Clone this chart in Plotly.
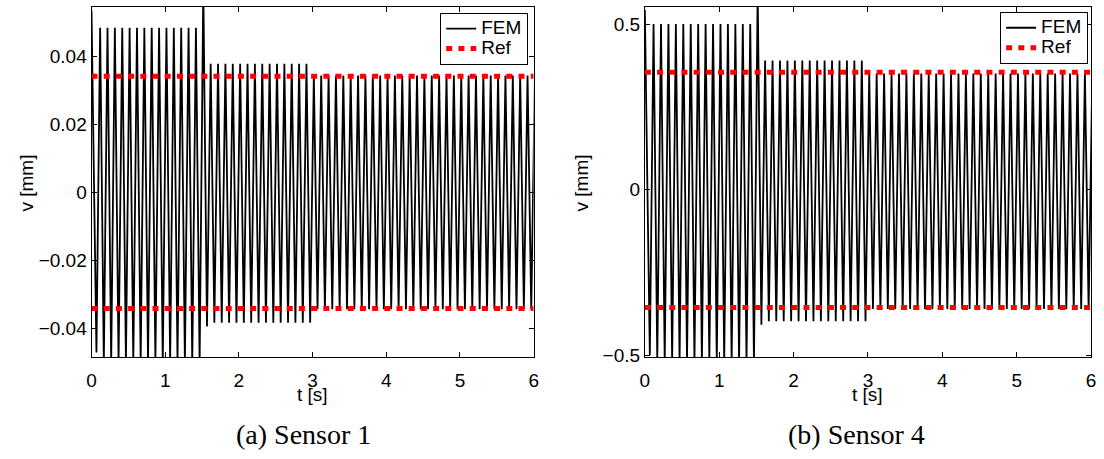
import plotly.graph_objects as go

# ---- data ----
# oscillation cycles (10 Hz); trough / peak times of cycle k
period = 0.1
trough_t0 = 0.067
peak_t0 = 0.117
n_cycles = 60

# Sensor 1 (left)
start_s1 = 0.0534
troughs_s1 = [-0.047] + [-0.050] * 14 + [-0.0394] + [-0.0383] * 14 + [-0.0343] * 30
peaks_s1 = [0.0484] * 14 + [0.060] + [0.0378] * 14 + [0.0343] * 31
ref_s1 = 0.0341

# Sensor 4 (right)
start_s4 = 0.544
troughs_s4 = [-0.50] + [-0.52] * 14 + [-0.408] + [-0.398] * 14 + [-0.361] * 30
peaks_s4 = [0.502] * 14 + [0.60] + [0.391] * 14 + [0.352] * 31
ref_s4 = 0.356

t_range = [0, 6]
x_ticks = [0, 1, 2, 3, 4, 5, 6]
y_ticks_s1 = [-0.04, -0.02, 0, 0.02, 0.04]
y_ticks_s4 = [-0.5, 0, 0.5]
captions = ["(a) Sensor 1", "(b) Sensor 4"]


def build(start, troughs, peaks):
    t = [0.0]
    v = [start]
    for k in range(n_cycles):
        t.append(trough_t0 + period * k)
        v.append(troughs[k])
        t.append(peak_t0 + period * k)
        v.append(peaks[k])
    return t, v


SANS = "Liberation Sans"
SERIF = "Liberation Serif"
FS = 19


def lg(name):
    return "<span style='font-size:19px'>%s</span>" % name


fig = go.Figure()

for i, (start, tr, pk, ref, leg) in enumerate([
        (start_s1, troughs_s1, peaks_s1, ref_s1, "legend"),
        (start_s4, troughs_s4, peaks_s4, ref_s4, "legend2")]):
    xa = "x" if i == 0 else "x2"
    ya = "y" if i == 0 else "y2"
    t, v = build(start, tr, pk)
    fig.add_trace(go.Scatter(x=t, y=v, mode="lines", name=lg("FEM"),
                             line=dict(color="black", width=1.8),
                             xaxis=xa, yaxis=ya, legend=leg))
    fig.add_trace(go.Scatter(x=[t_range[0], t_range[1], None, t_range[0], t_range[1]],
                             y=[ref, ref, None, -ref, -ref], mode="lines", name=lg("Ref"),
                             line=dict(color="#ff0000", width=5, dash="6px,6.2px"),
                             xaxis=xa, yaxis=ya, legend=leg))

W, H = 1104, 459
ytop = 1 - 7 / H
ybot = 1 - 363.5 / H

axis_common = dict(showgrid=False, zeroline=False, showline=True, linecolor="black",
                   linewidth=1, mirror="ticks", ticks="inside", ticklen=5,
                   tickcolor="black", tickwidth=1,
                   tickfont=dict(family=SANS, size=FS, color="black"))

legend_common = dict(xanchor="right", yanchor="top",
                     bgcolor="white", bordercolor="black", borderwidth=1,
                     font=dict(family=SANS, size=13, color="black"),
                     tracegroupgap=0, itemwidth=30)

fig.update_layout(
    width=W, height=H, autosize=False,
    margin=dict(l=0, r=0, t=0, b=0),
    paper_bgcolor="white", plot_bgcolor="white",
    xaxis=dict(domain=[87.3 / W, 533.5 / W], range=t_range, tickvals=x_ticks,
               anchor="y", ticklabelstandoff=6, **axis_common),
    yaxis=dict(domain=[ybot, ytop], range=[-0.0484, 0.0545], tickvals=y_ticks_s1,
               anchor="x", ticklabelstandoff=0, **axis_common),
    xaxis2=dict(domain=[645.7 / W, 1096 / W], range=t_range, tickvals=x_ticks,
                anchor="y2", ticklabelstandoff=6, **axis_common),
    yaxis2=dict(domain=[ybot, ytop], range=[-0.5065, 0.5535], tickvals=y_ticks_s4,
                anchor="x2", ticklabelstandoff=0, **axis_common),
    legend=dict(x=528 / W, y=1 - 13 / H, **legend_common),
    legend2=dict(x=1093 / W, y=1 - 12 / H, **legend_common),
    showlegend=True,
)

ann = []
for xc in [(87.3 + 533.5) / 2, (645.7 + 1096) / 2]:
    ann.append(dict(text="t [s]", x=xc / W, y=1 - 402 / H, xref="paper", yref="paper",
                    showarrow=False, xanchor="center", yanchor="middle",
                    font=dict(family=SANS, size=FS, color="black")))
for xc in [22, 582]:
    ann.append(dict(text="v [mm]", x=xc / W, y=1 - 186 / H, xref="paper", yref="paper",
                    showarrow=False, xanchor="center", yanchor="middle", textangle=-90,
                    font=dict(family=SANS, size=FS, color="black")))
for xc, cap in zip([301, 859], captions):
    ann.append(dict(text=cap, x=xc / W, y=1 - 442 / H, xref="paper", yref="paper",
                    showarrow=False, xanchor="center", yanchor="middle",
                    font=dict(family=SERIF, size=28, color="black")))
fig.update_layout(annotations=ann)

fig.write_html("out.html", config={"displayModeBar": False},
               post_script="document.body.style.margin='0';")
